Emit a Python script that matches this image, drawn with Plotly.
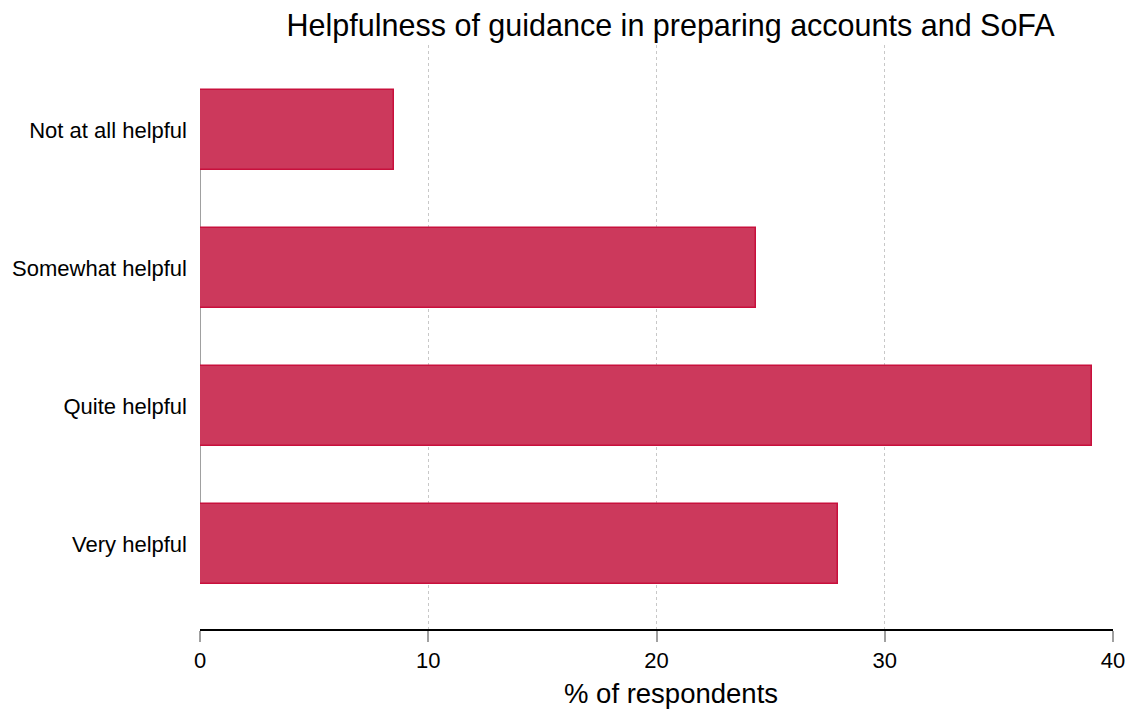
import plotly.graph_objects as go

categories = ["Very helpful", "Quite helpful", "Somewhat helpful", "Not at all helpful"]
values = [27.95, 39.1, 24.35, 8.5]
x_ticks = [0, 10, 20, 30, 40]

fig = go.Figure()
fig.add_trace(go.Bar(
    y=categories, x=values, orientation="h", width=0.58,
    marker=dict(color="#cc395c", line=dict(color="#c8103c", width=1.5)),
))

fig.add_shape(type="line", xref="x", yref="y", x0=0, x1=0, y0=0, y1=3,
              line=dict(color="#a0a0a0", width=2), layer="below")

fig.add_annotation(text="% of respondents", xref="paper", yref="paper",
                   x=0.516, y=0, xanchor="center", yanchor="middle", yshift=-64,
                   showarrow=False, font=dict(size=27.5, color="black"))

fig.update_layout(
    width=1125, height=703,
    margin=dict(l=192, r=20, t=37, b=82, autoexpand=False),
    plot_bgcolor="white", paper_bgcolor="white",
    font=dict(family="Liberation Sans, Arial, sans-serif", color="black"),
    showlegend=False,
    bargap=0,
    title=dict(text="Helpfulness of guidance in preparing accounts and SoFA",
               x=0.589, xanchor="center", y=0.976, yanchor="middle",
               font=dict(size=30.5, color="black")),
    xaxis=dict(range=[0, 40], tickvals=x_ticks, showgrid=True, gridcolor="#c8c8c8",
               griddash="dot", gridwidth=1, zeroline=False,
               showline=True, linecolor="black", linewidth=2,
               ticks="outside", ticklen=11, tickcolor="#a0a0a0", tickwidth=2,
               tickfont=dict(size=22), automargin=False),
    yaxis=dict(range=[-0.616, 3.616], categoryorder="array", categoryarray=categories,
               showgrid=False, zeroline=False, showline=False, automargin=False,
               ticks="", tickfont=dict(size=22), ticklabelstandoff=12),
)

fig.write_html("out.html")
